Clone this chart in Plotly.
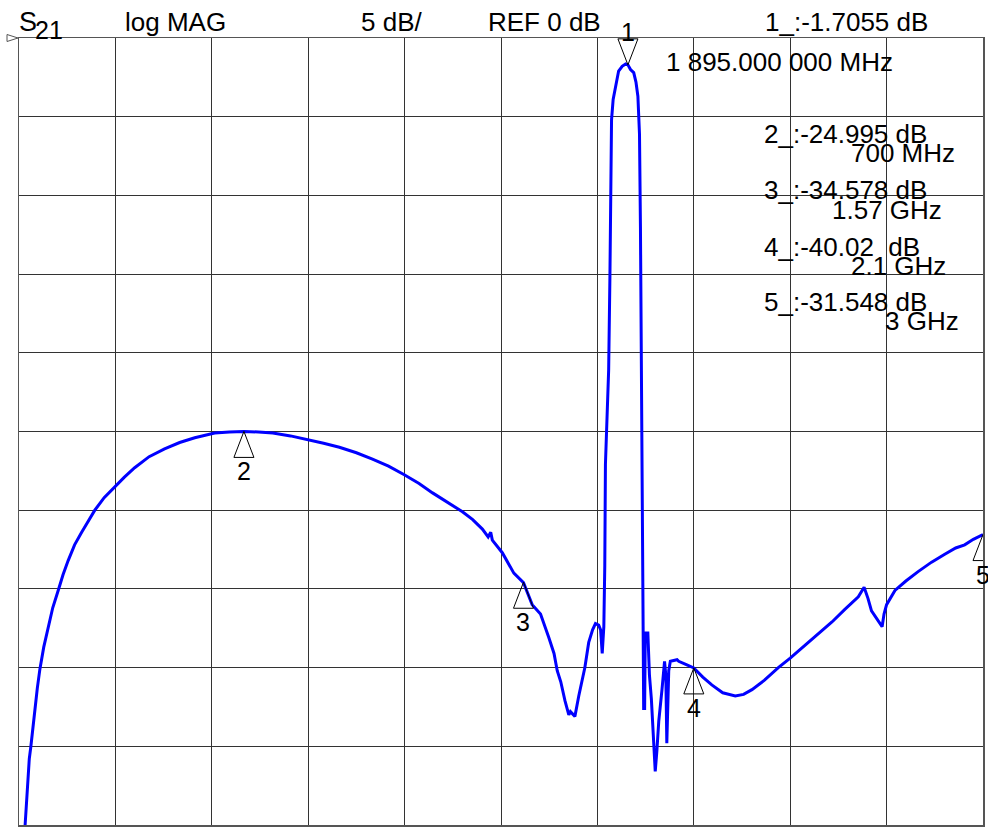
import plotly.graph_objects as go

# ---------------- data ----------------
freq_ghz = [0.019, 0.023, 0.027, 0.032, 0.037, 0.043, 0.050, 0.057, 0.065, 0.077,
            0.091, 0.105, 0.122, 0.137, 0.153, 0.173, 0.195, 0.215, 0.236, 0.265,
            0.298, 0.328, 0.360, 0.405, 0.453, 0.500, 0.547, 0.609, 0.655, 0.700,
            0.745, 0.790, 0.845, 0.898, 0.948, 0.997, 1.050, 1.100, 1.150, 1.199,
            1.245, 1.287, 1.335, 1.380, 1.412, 1.442, 1.460, 1.468, 1.473, 1.504,
            1.540, 1.570, 1.597, 1.623, 1.649, 1.665, 1.675, 1.686, 1.699, 1.711,
            1.716, 1.721, 1.730, 1.742, 1.761, 1.773, 1.785, 1.794, 1.804, 1.810,
            1.815, 1.820, 1.823, 1.825, 1.830, 1.835, 1.839, 1.841, 1.844, 1.849,
            1.854, 1.858, 1.866, 1.877, 1.888, 1.895, 1.903, 1.913, 1.920, 1.926,
            1.931, 1.934, 1.937, 1.939, 1.941, 1.944, 1.947, 1.949, 1.957, 1.962,
            1.968, 1.975, 1.980, 1.985, 1.991, 2.001, 2.009, 2.013, 2.016, 2.022,
            2.027, 2.048, 2.053, 2.075, 2.100, 2.128, 2.156, 2.190, 2.229, 2.255,
            2.281, 2.320, 2.363, 2.400, 2.445, 2.488, 2.530, 2.570, 2.612, 2.630,
            2.642, 2.653, 2.670, 2.686, 2.692, 2.700, 2.726, 2.760, 2.798, 2.840,
            2.881, 2.915, 2.943, 2.970, 3.000]
s21_db = [-50.0, -48.5, -46.8, -45.8, -45.0, -43.7, -42.6, -41.3, -40.1, -38.7,
          -37.5, -36.2, -35.1, -34.1, -33.2, -32.2, -31.4, -30.7, -30.0, -29.2,
          -28.5, -27.9, -27.3, -26.6, -26.1, -25.7, -25.4, -25.1, -25.03, -25.0,
          -25.03, -25.1, -25.28, -25.5, -25.75, -26.0, -26.35, -26.75, -27.2, -27.75,
          -28.3, -28.9, -29.5, -30.1, -30.6, -31.2, -31.7, -31.4, -31.9, -32.7,
          -34.0, -34.6, -36.0, -36.6, -38.1, -39.1, -40.2, -40.9, -42.1, -43.0,
          -42.8, -42.9, -43.1, -41.8, -40.0, -38.4, -37.6, -37.2, -37.3, -37.6,
          -39.1, -37.4, -33.5, -27.1, -24.1, -21.1, -15.1, -9.1, -5.2, -3.9,
          -3.4, -2.8, -2.1, -1.8, -1.65, -1.7055, -2.0, -2.2, -2.8, -3.7,
          -6.1, -12.1, -21.1, -30.1, -36.0, -42.6, -42.6, -37.8, -37.8, -40.5,
          -42.0, -45.0, -46.6, -45.3, -43.4, -41.4, -39.6, -40.5, -44.8, -40.2,
          -39.6, -39.5, -39.6, -39.8, -40.02, -40.6, -41.1, -41.6, -41.8, -41.7,
          -41.4, -40.8, -40.0, -39.4, -38.6, -37.8, -37.1, -36.3, -35.5, -34.9,
          -35.6, -36.4, -36.9, -37.4, -36.6, -36.0, -35.1, -34.5, -33.9, -33.3,
          -32.8, -32.4, -32.2, -31.85, -31.548]

marker_ids = ["1", "2", "3", "4", "5"]
marker_freq_ghz = [1.895, 0.700, 1.570, 2.100, 3.000]
marker_db = [-1.7055, -24.995, -34.578, -40.02, -31.548]
marker_value_text = ["1_:-1.7055 dB", "2_:-24.995 dB", "3_:-34.578 dB",
                     "4_:-40.02  dB", "5_:-31.548 dB"]
marker_stim_text = ["1 895.000 000 MHz", "700 MHz", "1.57 GHz", "2.1 GHz", "3 GHz"]

header_texts = ["log MAG", "5 dB/", "REF 0 dB"]

# ---------------- figure ----------------
W, H = 988, 828
L, R, T, B = 19, 3, 38, 3
PW, PH = W - L - R, H - T - B
FONT = "Liberation Sans, Arial, sans-serif"
FS = 26


def px(x):
    return (x - L) / PW


def py(y):
    return (H - B - y) / PH


fig = go.Figure()
fig.add_trace(go.Scatter(x=freq_ghz, y=s21_db, mode="lines",
                         line=dict(color="#0000FF", width=3), hoverinfo="skip"))

axis_common = dict(showgrid=True, gridcolor="#333333", gridwidth=1, zeroline=False,
                   showticklabels=False, ticks="", showline=True, linecolor="#555555",
                   linewidth=1.5, mirror=True)
fig.update_xaxes(range=[0, 3], dtick=0.3, tick0=0, **axis_common)
fig.update_yaxes(range=[-50, 0], dtick=5, tick0=0, **axis_common)

shapes = []
annotations = []

# marker triangles + labels
for mid, f, d in zip(marker_ids, marker_freq_ghz, marker_db):
    if mid == "1":
        path = "M0,0 L-10,26 L10,26 Z"
        lab_shift = 33
    else:
        path = "M0,0 L-10,-26 L10,-26 Z"
        lab_shift = -40
    shapes.append(dict(type="path", xref="x", yref="y", xsizemode="pixel",
                       ysizemode="pixel", xanchor=f, yanchor=d, path=path,
                       line=dict(color="black", width=1), fillcolor="rgba(0,0,0,0)",
                       layer="above"))
    annotations.append(dict(x=f, y=d, xref="x", yref="y", text=mid, showarrow=False,
                            yshift=lab_shift, xanchor="center", yanchor="middle",
                            font=dict(family=FONT, size=25, color="black")))

# reference level pointer at left
shapes.append(dict(type="path", xref="paper", yref="paper", xsizemode="pixel",
                   ysizemode="pixel", xanchor=0, yanchor=1,
                   path="M-12,3.5 L-1,0 L-12,-3.5 Z",
                   line=dict(color="#555555", width=1), fillcolor="rgba(0,0,0,0)"))


def text_at(t, x, y, anchor="left", size=FS):
    annotations.append(dict(x=px(x), y=py(y), xref="paper", yref="paper", text=t,
                            showarrow=False, xanchor=anchor, yanchor="middle",
                            font=dict(family=FONT, size=size, color="black"),
                            borderpad=0))


# header
text_at("S", 18, 22, size=27)
text_at("21", 34, 30, size=25)
text_at(header_texts[0], 124, 22)
text_at(header_texts[1], 361, 22)
text_at(header_texts[2], 488, 22)

# marker readouts
text_at(marker_value_text[0], 766, 22)
text_at(marker_stim_text[0], 666, 62)
rows_y = [134, 190, 247, 302]
stim_y = [153, 210, 266, 321]
stim_right = [958, 945, 949, 962]
for k in range(4):
    text_at(marker_value_text[k + 1], 765, rows_y[k])
    text_at(marker_stim_text[k + 1], stim_right[k], stim_y[k], anchor="right")

fig.update_layout(width=W, height=H, margin=dict(l=L, r=R, t=T, b=B),
                  paper_bgcolor="white", plot_bgcolor="white", showlegend=False,
                  hovermode=False, shapes=shapes, annotations=annotations)

fig.write_html("out.html",
               config={"displayModeBar": False, "staticPlot": True},
               post_script="document.body.style.margin='0';"
                           "document.body.style.overflow='hidden';")
